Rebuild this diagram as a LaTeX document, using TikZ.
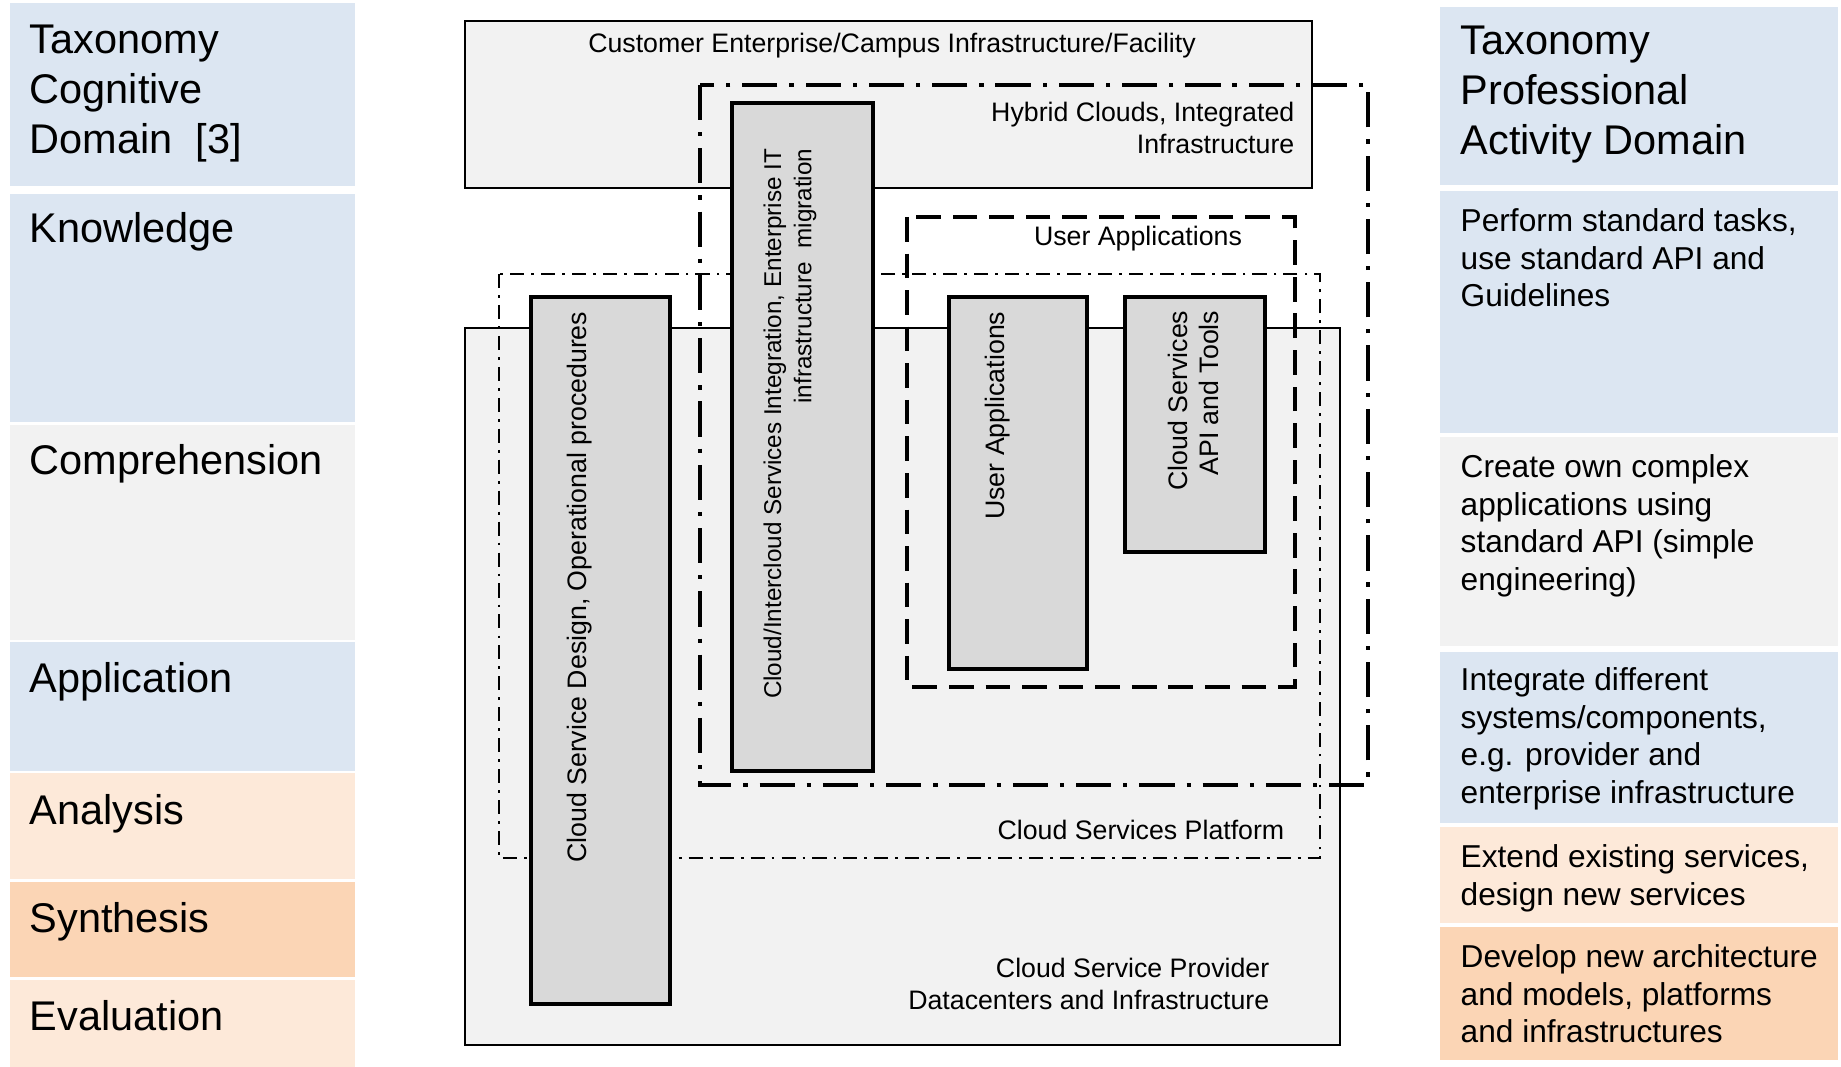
\documentclass[tikz,border=0pt]{standalone}
\usepackage{fontspec}
\setmainfont{Liberation Sans}

\definecolor{bloomblue}{HTML}{DCE6F2}
\definecolor{bloomgray}{HTML}{F2F2F2}
\definecolor{bloompeach}{HTML}{FDE9D9}
\definecolor{bloomorange}{HTML}{FBD5B5}
\definecolor{layerfill}{HTML}{F2F2F2}
\definecolor{stackfill}{HTML}{D9D9D9}

\tikzset{
  bigtext/.style={anchor=north west, inner sep=0, align=left, font=\fontsize{11.8}{14.2}\selectfont},
  smalltext/.style={anchor=north west, inner sep=0, align=left, font=\fontsize{9}{10.7}\selectfont},
  layertext/.style={inner sep=0, font=\fontsize{7.6}{9.1}\selectfont},
  uptext/.style={inner sep=0, rotate=90, anchor=east, align=right, font=\fontsize{7.6}{8.8}\selectfont},
  layerbox/.style={draw=black, line width=0.6pt, fill=layerfill},
  stackbox/.style={draw=black, line width=1.1pt, fill=stackfill},
  platformline/.style={line width=0.8pt, dash pattern=on 4pt off 2pt on 0.8pt off 2pt},
  hybridline/.style={line width=1.2pt, dash pattern=on 10pt off 3.4pt on 1.2pt off 3.4pt},
  appsline/.style={line width=1.2pt, dash pattern=on 7pt off 3.4pt}
}

\begin{document}
\begin{tikzpicture}[x=0.01cm, y=-0.01cm]
\useasboundingbox (0,0) rectangle (1841,1067);

\fill [bloomblue]   (10,3)   rectangle (355,186);
\fill [bloomblue]   (10,194) rectangle (355,422);
\fill [bloomgray]   (10,425) rectangle (355,640);
\fill [bloomblue]   (10,642) rectangle (355,771);
\fill [bloompeach]  (10,773) rectangle (355,879);
\fill [bloomorange] (10,882) rectangle (355,977);
\fill [bloompeach]  (10,980) rectangle (355,1067);

\node [bigtext] (cogtitle) at (29,24)  {Taxonomy\\Cognitive\\Domain\ \ [3]};
\node [bigtext] (knowl)    at (29,212) {Knowledge};
\node [bigtext] (compr)    at (29,444) {Comprehension};
\node [bigtext] (appl)     at (29,662) {Application};
\node [bigtext] (anal)     at (29,794) {Analysis};
\node [bigtext] (synth)    at (29,902) {Synthesis};
\node [bigtext] (evalu)    at (29,1000) {Evaluation};

\fill [bloomblue]   (1440,7)   rectangle (1838,185);
\fill [bloomblue]   (1440,191) rectangle (1838,433);
\fill [bloomgray]   (1440,437) rectangle (1838,646);
\fill [bloomblue]   (1440,652) rectangle (1838,823);
\fill [bloompeach]  (1440,827) rectangle (1838,923);
\fill [bloomorange] (1440,927) rectangle (1838,1060);

\node [bigtext]   (proftitle) at (1460,25)  {Taxonomy\\Professional\\Activity Domain};
\node [smalltext] (perform)   at (1460,208) {Perform standard tasks,\\use standard API and\\Guidelines};
\node [smalltext] (create)    at (1460,454) {Create own complex\\applications using\\standard API (simple\\engineering)};
\node [smalltext] (integr)    at (1460,667) {Integrate different\\systems/components,\\e.g. provider and\\enterprise infrastructure};
\node [smalltext] (extend)    at (1460,844) {Extend existing services,\\design new services};
\node [smalltext] (develop)   at (1460,944) {Develop new architecture\\and models, platforms\\and infrastructures};

\draw [layerbox] (465,21)  rectangle (1312,188);
\draw [layerbox] (465,328) rectangle (1340,1045);

\draw [platformline] (499,274) rectangle (1320,858);
\draw [hybridline]   (700,85)  rectangle (1368,785);
\draw [appsline]     (907,217) rectangle (1295,687);

\draw [stackbox] (531,297)  rectangle (670,1004);
\draw [stackbox] (732,103)  rectangle (873,771);
\draw [stackbox] (949,297)  rectangle (1087,669);
\draw [stackbox] (1125,297) rectangle (1265,552);

\node [layertext] (customer) at (892,46) {Customer Enterprise/Campus Infrastructure/Facility};
\node [layertext, anchor=north east, align=right] (hybrid) at (1295,101) {Hybrid Clouds, Integrated\\Infrastructure};
\node [layertext] (userlbl) at (1138,239) {User Applications};
\node [layertext, anchor=east] (platform) at (1285,830) {Cloud Services Platform};
\node [layertext, anchor=north east, align=right] (provider) at (1270,957) {Cloud Service Provider\\Datacenters and Infrastructure};

\node [uptext] (design) at (580,311) {Cloud Service Design, Operational procedures};
\node [uptext, font=\fontsize{6.9}{8.6}\selectfont] (interc) at (790,148) {Cloud/Intercloud Services Integration, Enterprise IT\\infrastructure\ \ migration};
\node [uptext] (userapp) at (998,311) {User Applications};
\node [uptext] (apitools) at (1193,310) {Cloud Services\\API and Tools};

\end{tikzpicture}
\end{document}
